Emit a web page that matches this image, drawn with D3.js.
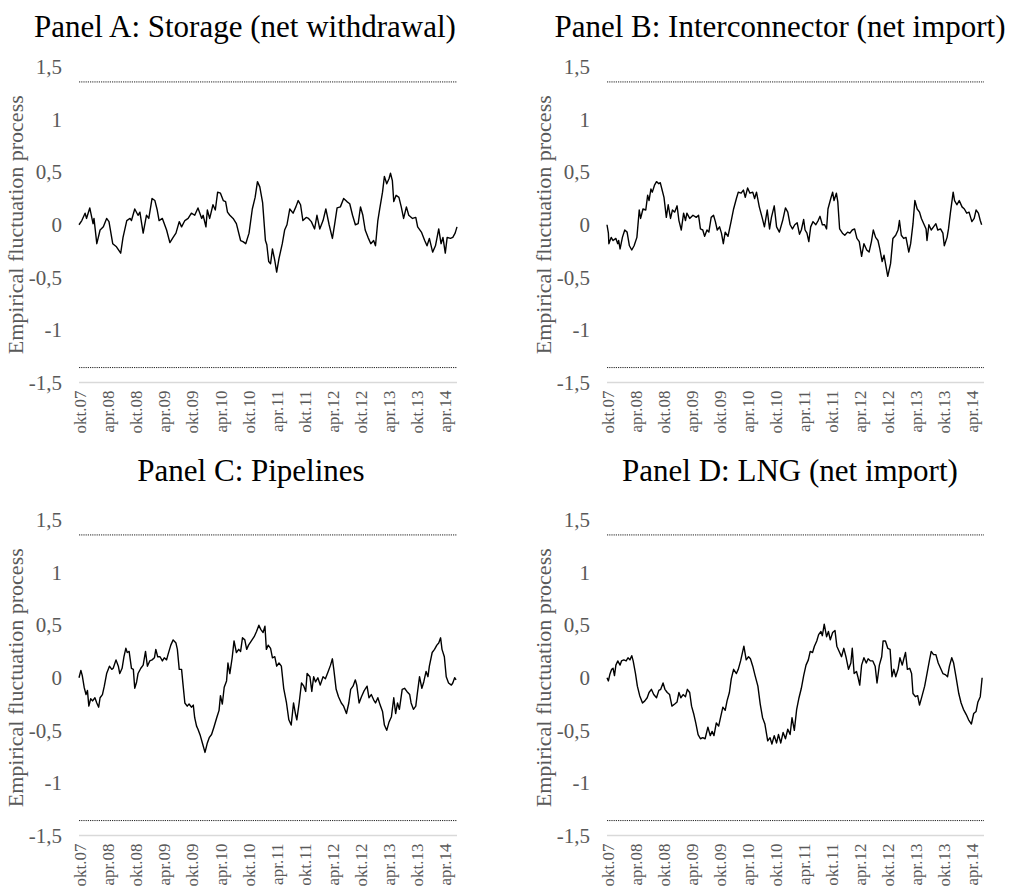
<!DOCTYPE html>
<html><head><meta charset="utf-8">
<script src="https://cdn.jsdelivr.net/npm/d3@7"></script>
<style>
body{margin:0;background:#fff;}
text{font-family:"Liberation Serif","Times New Roman",serif;}
</style>
</head><body>
<svg id="chart" width="1016" height="888"></svg>
<script>
// ---------- data ----------
const tickLabels = ["okt.07","apr.08","okt.08","apr.09","okt.09","apr.10","okt.10","apr.11","okt.11","apr.12","okt.12","apr.13","okt.13","apr.14"];
const tickMonths = [0,6,12,18,24,30,36,42,48,54,60,66,72,78]; // months since okt.07
const yTicks = [1.5,1,0.5,0,-0.5,-1,-1.5];
const boundary = 1.358;
const monthSpan = 80.7;

// [months since okt.07, empirical fluctuation process]
const storage = [[0,0],[0.6,0.04],[1.3,0.11],[1.6,0.06],[2.3,0.16],[3.0,0.01],[3.2,0.06],[3.8,-0.18],[4.5,-0.05],[5.2,-0.02],[5.9,0.06],[6.4,0.03],[7.2,-0.18],[8.0,-0.21],[8.9,-0.27],[9.4,-0.12],[10.2,0.04],[10.9,0.06],[11.2,0.04],[11.9,0.15],[12.6,0.09],[13.0,0.12],[13.7,-0.08],[14.4,0.09],[14.9,0.06],[15.6,0.25],[16.2,0.23],[16.7,0.14],[17.1,0.04],[17.8,0.06],[18.7,-0.05],[19.4,-0.17],[20.1,-0.12],[20.7,-0.08],[21.4,0.03],[21.9,-0.02],[22.6,0.04],[23.3,0.06],[24.0,0.11],[24.7,0.09],[25.4,0.16],[26.2,0.06],[26.5,0.09],[27.1,-0.02],[27.4,0.14],[27.9,0.06],[28.6,0.19],[29.1,0.14],[29.6,0.31],[30.2,0.30],[30.8,0.23],[31.3,0.22],[31.7,0.12],[32.2,0.09],[32.9,0.06],[33.6,0.01],[34.5,-0.15],[35.0,-0.16],[35.6,-0.18],[36.3,-0.08],[37.0,0.15],[37.6,0.26],[38.1,0.41],[38.6,0.36],[39.2,0.21],[39.8,-0.15],[40.1,-0.19],[40.5,-0.35],[40.9,-0.37],[41.3,-0.23],[41.8,-0.34],[42.2,-0.45],[42.7,-0.32],[43.4,-0.18],[43.9,-0.05],[44.4,0.00],[45.0,0.15],[45.7,0.11],[46.3,0.17],[46.8,0.23],[47.3,0.19],[47.8,0.04],[48.5,0.07],[49.0,0.06],[49.6,0.03],[50.3,-0.04],[50.8,0.09],[51.4,-0.04],[52.1,0.04],[52.7,0.15],[53.4,0.00],[54.1,-0.13],[54.6,0.01],[55.1,0.16],[55.8,0.17],[56.5,0.25],[57.2,0.22],[57.8,0.20],[58.4,0.09],[59.0,0.00],[59.6,0.01],[60.1,0.17],[60.6,0.09],[61.1,-0.05],[61.7,-0.12],[62.3,-0.18],[62.9,-0.15],[63.3,-0.20],[63.8,0.04],[64.2,0.15],[64.8,0.31],[65.2,0.46],[65.7,0.39],[66.2,0.44],[66.5,0.49],[66.9,0.42],[67.2,0.22],[67.7,0.28],[68.3,0.26],[68.8,0.17],[69.3,0.06],[69.9,0.17],[70.4,0.09],[71.2,0.06],[71.9,0.07],[72.3,-0.02],[73.1,-0.07],[73.8,-0.15],[74.3,-0.20],[74.8,-0.13],[75.5,-0.26],[76.1,-0.20],[76.8,-0.04],[77.3,-0.18],[77.7,-0.12],[78.2,-0.27],[78.6,-0.12],[79.3,-0.13],[79.8,-0.12],[80.3,-0.08],[80.7,-0.02]];

const interconnector = [[0,0],[0.3,-0.08],[0.4,-0.18],[0.9,-0.12],[1.3,-0.15],[1.9,-0.13],[2.3,-0.18],[2.5,-0.15],[2.8,-0.23],[3.3,-0.12],[3.8,-0.05],[4.3,-0.07],[4.8,-0.20],[5.3,-0.24],[5.8,-0.20],[6.4,-0.12],[6.9,0.14],[7.2,0.06],[7.7,0.15],[8.3,0.14],[8.7,0.28],[9.0,0.23],[9.4,0.34],[9.7,0.31],[10.2,0.38],[10.6,0.41],[11.1,0.39],[11.4,0.40],[11.8,0.33],[12.2,0.26],[12.7,0.07],[13.1,0.19],[13.6,0.06],[14.0,0.14],[14.5,0.12],[15.0,0.18],[15.4,0.04],[15.9,-0.05],[16.4,0.11],[16.8,0.04],[17.1,0.11],[17.7,0.06],[18.4,0.09],[19.1,0.07],[19.6,0.09],[20.0,-0.04],[20.5,-0.05],[20.9,-0.11],[21.4,-0.05],[21.8,-0.07],[22.3,0.07],[22.8,0.09],[23.2,0.03],[23.6,-0.05],[24.1,-0.02],[24.5,-0.08],[24.9,-0.18],[25.3,-0.07],[25.9,-0.11],[26.6,0.04],[27.1,0.15],[27.7,0.25],[28.1,0.31],[28.7,0.30],[29.2,0.33],[29.6,0.26],[30.1,0.35],[30.6,0.30],[31.2,0.31],[31.6,0.25],[32.0,0.31],[32.6,0.17],[33.2,0.07],[33.7,-0.02],[34.3,0.14],[34.8,-0.04],[35.2,0.07],[35.8,0.18],[36.3,-0.02],[36.9,-0.07],[37.6,0.04],[38.2,0.16],[38.7,0.12],[39.2,0.00],[39.7,-0.04],[40.2,0.00],[40.7,0.02],[41.2,-0.09],[41.6,-0.05],[42.1,0.05],[42.4,-0.05],[42.8,-0.08],[43.2,-0.16],[43.6,-0.02],[44.1,0.03],[44.7,0.00],[45.2,0.04],[45.6,0.08],[46.1,0.00],[46.6,0.00],[47.0,-0.04],[47.3,0.15],[47.9,0.25],[48.3,0.31],[48.6,0.23],[49.1,0.30],[49.4,0.22],[49.8,-0.04],[50.4,-0.08],[50.9,-0.10],[51.5,-0.07],[52.0,-0.08],[52.5,-0.05],[53.0,-0.04],[53.5,-0.13],[54.0,-0.16],[54.5,-0.30],[55.0,-0.18],[55.6,-0.24],[56.1,-0.26],[56.6,-0.16],[57.0,-0.05],[57.5,-0.12],[58.0,-0.15],[58.4,-0.23],[58.9,-0.35],[59.3,-0.29],[59.7,-0.39],[60.1,-0.49],[60.7,-0.37],[61.2,-0.13],[61.8,-0.10],[62.3,-0.05],[62.6,0.04],[63.0,-0.10],[63.5,-0.13],[64.0,-0.12],[64.6,-0.26],[65.0,-0.18],[65.5,0.01],[65.9,0.23],[66.4,0.15],[66.9,0.12],[67.3,0.06],[67.8,0.01],[68.3,-0.04],[68.5,-0.15],[68.9,0.00],[69.4,-0.05],[69.9,-0.02],[70.4,0.01],[70.8,-0.05],[71.4,-0.04],[71.9,-0.08],[72.2,-0.20],[72.8,-0.12],[73.1,-0.04],[73.5,0.11],[74.1,0.31],[74.4,0.23],[74.9,0.19],[75.4,0.23],[76.0,0.17],[76.5,0.15],[77.0,0.11],[77.5,0.12],[78.1,0.03],[78.6,0.06],[79.0,0.14],[79.5,0.11],[79.9,0.04],[80.2,0.00]];

const pipelines = [[0,0],[0.4,0.07],[0.7,0.02],[1.1,-0.09],[1.5,-0.16],[1.8,-0.12],[2.1,-0.27],[2.5,-0.20],[2.9,-0.22],[3.4,-0.19],[3.8,-0.24],[4.2,-0.28],[4.5,-0.19],[5.0,-0.16],[5.4,-0.08],[5.9,0.04],[6.5,0.11],[7.0,0.08],[7.3,0.09],[7.9,0.17],[8.4,0.11],[8.7,0.04],[9.2,0.09],[9.6,0.20],[10.0,0.28],[10.3,0.24],[10.7,0.25],[11.2,0.09],[11.6,0.08],[11.9,-0.10],[12.3,-0.04],[12.6,0.04],[13.2,0.09],[13.7,0.12],[14.2,0.25],[14.6,0.11],[15.1,0.16],[15.6,0.17],[16.1,0.19],[16.4,0.27],[16.8,0.20],[17.3,0.20],[17.8,0.16],[18.2,0.19],[18.7,0.17],[19.0,0.22],[19.6,0.31],[20.1,0.36],[20.7,0.33],[21.0,0.27],[21.4,0.08],[21.9,0.08],[22.2,-0.06],[22.6,-0.24],[23.1,-0.27],[23.5,-0.25],[24.0,-0.28],[24.4,-0.26],[24.7,-0.38],[25.1,-0.46],[25.4,-0.49],[25.9,-0.55],[26.4,-0.63],[26.9,-0.71],[27.4,-0.62],[27.8,-0.57],[28.3,-0.54],[28.8,-0.47],[29.4,-0.38],[29.9,-0.31],[30.2,-0.17],[30.6,-0.25],[31.0,-0.09],[31.5,-0.03],[31.8,0.14],[32.2,0.04],[32.7,0.19],[33.1,0.35],[33.6,0.24],[34.1,0.27],[34.5,0.25],[34.9,0.38],[35.4,0.36],[35.8,0.27],[36.2,0.31],[36.8,0.35],[37.4,0.39],[37.9,0.44],[38.4,0.50],[38.8,0.46],[39.3,0.43],[39.7,0.49],[40.0,0.27],[40.4,0.31],[40.9,0.28],[41.3,0.19],[41.8,0.20],[42.2,0.11],[42.7,0.14],[43.2,0.11],[43.7,-0.10],[44.3,-0.24],[44.8,-0.40],[45.3,-0.45],[45.8,-0.24],[46.2,-0.34],[46.5,-0.40],[47.0,-0.24],[47.5,-0.05],[48.0,-0.08],[48.4,-0.13],[48.7,0.04],[49.3,0.01],[49.7,-0.13],[50.1,0.01],[50.5,-0.04],[51.0,0.00],[51.5,-0.07],[52.1,0.01],[52.6,-0.01],[53.2,0.06],[53.7,0.12],[54.1,0.18],[54.4,0.08],[54.9,-0.11],[55.4,-0.18],[56.0,-0.24],[56.5,-0.27],[57.1,-0.34],[57.6,-0.24],[58.0,-0.11],[58.5,-0.08],[59.0,-0.02],[59.3,-0.07],[59.8,-0.24],[60.3,-0.18],[60.8,-0.13],[61.2,-0.10],[61.5,-0.08],[61.9,-0.19],[62.4,-0.16],[62.9,-0.21],[63.3,-0.24],[63.8,-0.19],[64.3,-0.26],[64.8,-0.32],[65.2,-0.45],[65.7,-0.50],[66.2,-0.42],[66.7,-0.37],[67.2,-0.19],[67.6,-0.34],[68.0,-0.24],[68.4,-0.30],[69.0,-0.11],[69.5,-0.10],[70.0,-0.13],[70.6,-0.16],[70.9,-0.24],[71.4,-0.30],[71.9,-0.27],[72.2,-0.16],[72.7,0.01],[73.2,-0.10],[73.6,-0.04],[74.1,0.06],[74.5,0.01],[74.8,0.11],[75.4,0.24],[75.9,0.27],[76.4,0.31],[76.8,0.33],[77.2,0.38],[77.5,0.27],[78.0,0.20],[78.4,0.01],[78.9,-0.05],[79.5,-0.07],[79.8,-0.05],[80.2,0.00],[80.5,-0.02]];

const lng = [[0,0],[0.3,-0.03],[0.6,0.03],[1.0,0.08],[1.3,0.09],[1.6,0.02],[1.9,0.12],[2.3,0.16],[2.8,0.12],[3.1,0.16],[3.6,0.17],[4.1,0.16],[4.5,0.19],[4.9,0.17],[5.3,0.21],[5.6,0.16],[6.1,0.04],[6.5,-0.08],[7.0,-0.17],[7.6,-0.24],[8.1,-0.22],[8.6,-0.19],[9.0,-0.14],[9.5,-0.11],[10.0,-0.16],[10.6,-0.19],[11.1,-0.12],[11.5,-0.11],[12.0,-0.05],[12.4,-0.11],[12.9,-0.14],[13.4,-0.16],[13.9,-0.27],[14.5,-0.25],[15.0,-0.23],[15.4,-0.14],[15.8,-0.19],[16.3,-0.16],[16.8,-0.18],[17.2,-0.11],[17.7,-0.14],[18.1,-0.27],[18.6,-0.35],[19.0,-0.43],[19.5,-0.54],[20.0,-0.58],[20.5,-0.57],[21.0,-0.58],[21.6,-0.47],[22.1,-0.55],[22.5,-0.51],[22.9,-0.55],[23.4,-0.43],[23.9,-0.46],[24.3,-0.38],[24.8,-0.28],[25.3,-0.31],[25.7,-0.22],[26.2,-0.14],[26.6,-0.01],[27.1,0.08],[27.7,0.04],[28.1,0.08],[28.6,0.16],[28.9,0.22],[29.3,0.30],[29.8,0.17],[30.3,0.20],[30.7,0.18],[31.2,0.11],[31.7,0.02],[32.3,-0.08],[32.8,-0.25],[33.3,-0.38],[33.8,-0.44],[34.4,-0.60],[34.9,-0.57],[35.3,-0.63],[35.8,-0.55],[36.3,-0.62],[36.7,-0.54],[37.2,-0.62],[37.7,-0.52],[38.2,-0.58],[38.7,-0.49],[39.2,-0.54],[39.6,-0.38],[40.1,-0.50],[40.6,-0.30],[41.1,-0.19],[41.6,-0.10],[42.1,0.02],[42.6,0.12],[43.1,0.17],[43.5,0.25],[44.0,0.24],[44.4,0.30],[44.9,0.35],[45.3,0.41],[45.8,0.44],[46.1,0.40],[46.5,0.51],[47.0,0.39],[47.4,0.44],[47.8,0.36],[48.3,0.43],[48.8,0.45],[49.2,0.30],[49.7,0.25],[50.2,0.20],[50.7,0.28],[51.2,0.19],[51.7,0.08],[52.2,0.14],[52.5,0.28],[52.9,0.04],[53.4,0.06],[53.7,0.01],[54.1,-0.07],[54.5,0.12],[55.0,0.19],[55.5,0.14],[55.9,0.18],[56.4,0.16],[56.9,0.16],[57.4,0.11],[57.8,-0.05],[58.3,0.12],[58.8,0.20],[59.1,0.35],[59.6,0.35],[60.1,0.28],[60.6,0.27],[61.0,0.01],[61.4,0.08],[61.8,0.01],[62.3,0.08],[62.7,0.19],[63.2,0.12],[63.6,0.19],[63.9,0.24],[64.3,0.08],[64.8,0.09],[65.2,0.04],[65.5,-0.15],[66.0,-0.18],[66.5,-0.17],[66.9,-0.26],[67.4,-0.18],[68.0,-0.08],[68.5,0.04],[69.0,0.16],[69.4,0.25],[69.9,0.22],[70.4,0.22],[70.9,0.14],[71.4,0.09],[71.9,0.04],[72.4,0.03],[72.9,0.01],[73.3,0.11],[73.8,0.19],[74.2,0.14],[74.7,0.01],[75.3,-0.15],[75.8,-0.24],[76.3,-0.30],[76.9,-0.35],[77.4,-0.40],[78.0,-0.44],[78.5,-0.34],[79.0,-0.32],[79.4,-0.23],[79.9,-0.18],[80.3,0.00]];

// ---------- layout ----------
const panels = [
  {title:"Panel A: Storage (net withdrawal)",   data:storage,        x0:79,  x1:457, yTop:67,  yBot:382.5, titleX:245, titleY:37},
  {title:"Panel B: Interconnector (net import)", data:interconnector, x0:607, x1:984, yTop:67,  yBot:382.5, titleX:780, titleY:37},
  {title:"Panel C: Pipelines",                   data:pipelines,      x0:79,  x1:457, yTop:520, yBot:835.5, titleX:251, titleY:481},
  {title:"Panel D: LNG (net import)",            data:lng,            x0:607, x1:984, yTop:520, yBot:835.5, titleX:790, titleY:481}
];

const svg = d3.select("#chart");
const fmt = d => String(d).replace(".", ",");
const grey = "#595959";
const serif = '"Liberation Serif","Times New Roman",serif';

panels.forEach(p => {
  const x = d3.scaleLinear().domain([0, monthSpan]).range([p.x0, p.x1]);
  const y = d3.scaleLinear().domain([-1.5, 1.5]).range([p.yBot, p.yTop]);
  const g = svg.append("g");

  // title
  g.append("text").attr("x", p.titleX).attr("y", p.titleY)
    .attr("text-anchor","middle").attr("font-size", 31).attr("fill","#000")
    .text(p.title);

  // y axis labels
  const yAxis = d3.axisLeft(y).tickValues(yTicks).tickFormat(fmt).tickSize(0).tickPadding(17);
  const ya = g.append("g").attr("transform", `translate(${p.x0},0)`).call(yAxis);
  ya.select(".domain").remove();
  ya.selectAll("text").attr("font-size", 21).attr("fill", grey).attr("font-family", serif);

  // y title
  g.append("text")
    .attr("transform", `translate(${p.x0 - 64},${(p.yTop + p.yBot)/2}) rotate(-90)`)
    .attr("text-anchor","middle").attr("dominant-baseline","central")
    .attr("font-size", 22).attr("fill", grey)
    .text("Empirical fluctuation process");

  // bottom axis line (at -1.5)
  g.append("line").attr("x1", p.x0).attr("x2", p.x1)
    .attr("y1", y(-1.5)).attr("y2", y(-1.5))
    .attr("stroke", "#d9d9d9").attr("stroke-width", 1.5);

  // x labels
  const xAxis = d3.axisBottom(x).tickValues(tickMonths)
    .tickFormat((d,i) => tickLabels[i]).tickSize(0).tickPadding(0);
  const xa = g.append("g").attr("transform", `translate(0,${y(-1.5)})`).call(xAxis);
  xa.select(".domain").remove();
  xa.selectAll("text")
    .attr("font-size", 17).attr("fill", grey).attr("font-family", serif)
    .attr("text-anchor","end").attr("dominant-baseline","central")
    .attr("transform","translate(1,8) rotate(-90)")
    .attr("x", 0).attr("y", 0).attr("dy", null);

  // boundaries
  [boundary, -boundary].forEach(b => {
    g.append("line").attr("x1", p.x0).attr("x2", p.x1)
      .attr("y1", y(b)).attr("y2", y(b))
      .attr("stroke", "#222").attr("stroke-width", 1).attr("stroke-dasharray", "1.2,1");
  });

  // series
  const line = d3.line().x(d => x(d[0])).y(d => y(d[1]));
  g.append("path").datum(p.data).attr("d", line)
    .attr("fill","none").attr("stroke","#000").attr("stroke-width", 1.4)
    .attr("stroke-linejoin","round");
});
</script>
</body></html>
